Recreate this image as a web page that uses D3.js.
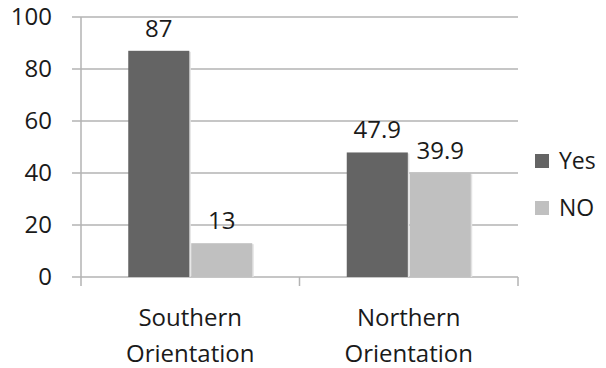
<!DOCTYPE html>
<html>
<head>
<meta charset="utf-8">
<script src="https://cdn.jsdelivr.net/npm/d3@7"></script>
<style>
  html, body { margin: 0; padding: 0; background: #fff; }
  svg { display: block; font-family: "Open Sans", "DejaVu Sans", sans-serif; }
</style>
</head>
<body>
<svg id="chart" width="606" height="368"></svg>
<script>
// Survey answers by building orientation
const categories = [["Southern", "Orientation"], ["Northern", "Orientation"]];
const seriesNames = ["Yes", "NO"];
const yesValues = [87, 47.9];
const noValues = [13, 39.9];
const yTicks = [0, 20, 40, 60, 80, 100];

const colors = { "Yes": "#646464", "NO": "#c0c0c0" };

const svg = d3.select("#chart");
const margin = { left: 81, right: 88, top: 17, bottom: 91 };
const W = 606, H = 368;

const catKeys = categories.map(c => c.join(" "));
const x = d3.scaleBand().domain(catKeys).range([margin.left, W - margin.right]).paddingInner(0).paddingOuter(0);
const x1 = d3.scaleBand().domain(seriesNames).range([0, 124]).paddingInner(0.03);
const y = d3.scaleLinear().domain([0, 100]).range([H - margin.bottom, margin.top]);

// horizontal gridlines with left tick stubs
svg.append("g").selectAll("line").data(yTicks).join("line")
  .attr("x1", margin.left - 9).attr("x2", W - margin.right)
  .attr("y1", d => y(d)).attr("y2", d => y(d))
  .attr("stroke", "#b3b3b3").attr("stroke-width", 1.5);

// y axis line
svg.append("line")
  .attr("x1", margin.left).attr("x2", margin.left)
  .attr("y1", y(100)).attr("y2", y(0) + 9)
  .attr("stroke", "#b3b3b3").attr("stroke-width", 1.5);

// x axis category separators
const xTickPos = catKeys.map(k => x(k) + x.bandwidth());
svg.append("g").selectAll("line").data(xTickPos).join("line")
  .attr("x1", d => d).attr("x2", d => d)
  .attr("y1", y(0)).attr("y2", y(0) + 9)
  .attr("stroke", "#b3b3b3").attr("stroke-width", 1.5);

// y tick labels
svg.append("g").selectAll("text").data(yTicks).join("text")
  .attr("x", 52).attr("y", d => y(d))
  .attr("dy", "0.35em").attr("text-anchor", "end")
  .attr("font-size", 24).attr("fill", "#1a1a1a")
  .text(d => d);

// bars
const rows = catKeys.map((k, i) => ({ key: k, values: [
  { s: "Yes", v: yesValues[i] }, { s: "NO", v: noValues[i] }
]}));

const groupOffset = (x.bandwidth() - 124) / 2;
const grp = svg.append("g").selectAll("g").data(rows).join("g")
  .attr("transform", d => `translate(${x(d.key) + groupOffset},0)`);

grp.selectAll("rect.shadow").data(d => d.values).join("rect")
  .attr("class", "shadow")
  .attr("x", d => x1(d.s) + 1.5).attr("y", d => y(d.v) + 1)
  .attr("width", x1.bandwidth()).attr("height", d => y(0) - y(d.v) - 1)
  .attr("fill", "#e2e2e2");

grp.selectAll("rect.bar").data(d => d.values).join("rect")
  .attr("class", "bar")
  .attr("x", d => x1(d.s)).attr("y", d => y(d.v))
  .attr("width", x1.bandwidth()).attr("height", d => y(0) - y(d.v))
  .attr("fill", d => colors[d.s]);

// value labels
grp.selectAll("text").data(d => d.values).join("text")
  .attr("x", d => x1(d.s) + x1.bandwidth() / 2)
  .attr("y", d => y(d.v) - 14)
  .attr("text-anchor", "middle").attr("font-size", 24).attr("fill", "#1a1a1a")
  .text(d => d.v);

// category labels
const cat = svg.append("g").selectAll("text").data(categories).join("text")
  .attr("x", (d, i) => x(catKeys[i]) + x.bandwidth() / 2)
  .attr("text-anchor", "middle").attr("font-size", 24).attr("fill", "#1a1a1a");
cat.selectAll("tspan").data(d => d).join("tspan")
  .attr("x", function() { return d3.select(this.parentNode).attr("x"); })
  .attr("y", (d, i) => 326 + i * 36)
  .text(d => d);

// legend
const legend = svg.append("g").selectAll("g").data(seriesNames).join("g")
  .attr("transform", (d, i) => `translate(535, ${161 + i * 47})`);
legend.append("rect").attr("x", 0).attr("y", -7).attr("width", 14).attr("height", 14)
  .attr("fill", d => colors[d]);
legend.append("text").attr("x", 24).attr("y", 0).attr("dy", "0.35em")
  .attr("font-size", 23).attr("fill", "#1a1a1a").text(d => d);
</script>
</body>
</html>
